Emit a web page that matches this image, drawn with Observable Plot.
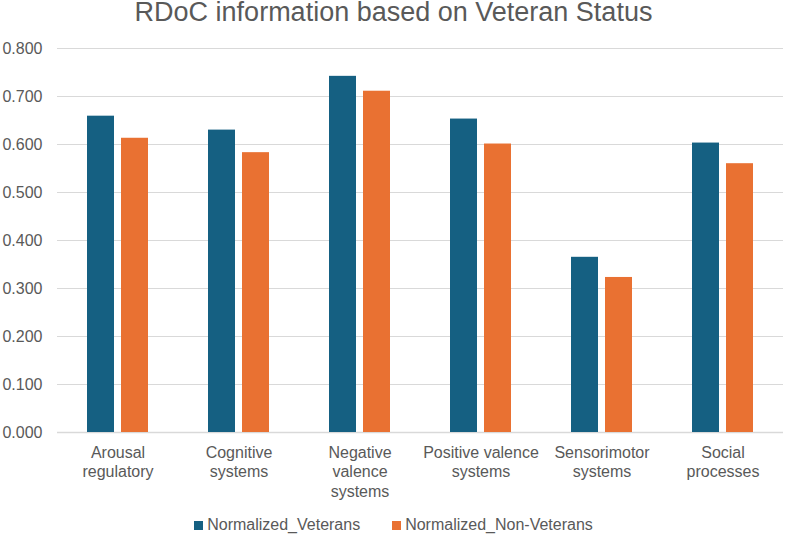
<!DOCTYPE html>
<html><head><meta charset="utf-8">
<script src="https://cdn.jsdelivr.net/npm/d3@7"></script>
<script src="https://cdn.jsdelivr.net/npm/@observablehq/plot@0.6"></script>
<style>
body{margin:0;background:#fff;font-family:"Liberation Sans",Arial,sans-serif;width:787px;height:536px;overflow:hidden;}
#title{height:36px;text-align:center;font-size:27px;line-height:25px;color:#595959;}
#legend{display:flex;justify-content:center;gap:32px;font-size:16px;color:#595959;margin-top:14px;}
.item{display:flex;align-items:center;gap:4px;}
.sw{width:9px;height:9px;display:inline-block;}
</style></head>
<body>
<div id="title">RDoC information based on Veteran Status</div>
<div id="chart"></div>
<div id="legend"></div>
<script>
const categories = ["Arousal regulatory","Cognitive systems","Negative valence systems","Positive valence systems","Sensorimotor systems","Social processes"];
const tickLabels = ["Arousal\nregulatory","Cognitive\nsystems","Negative\nvalence\nsystems","Positive valence\nsystems","Sensorimotor\nsystems","Social\nprocesses"];
const series = ["Normalized_Veterans","Normalized_Non-Veterans"];
const veterans = [0.659,0.630,0.742,0.653,0.365,0.603];
const nonVeterans = [0.613,0.583,0.711,0.601,0.323,0.560];
const colors = ["#156082","#E97132"];
const yTicks = [0,0.1,0.2,0.3,0.4,0.5,0.6,0.7,0.8];

const data = categories.flatMap((c,i)=>[
  {category:c, series:series[0], value:veterans[i]},
  {category:c, series:series[1], value:nonVeterans[i]}
]);
const fmt = d3.format(".3f");
const chart = Plot.plot({
  width:787, height:466,
  marginTop:12, marginBottom:70, marginLeft:57, marginRight:4,
  style:{fontFamily:'"Liberation Sans",Arial,sans-serif', fontSize:"16px", color:"#595959", background:"#fff"},
  fx:{domain:categories, padding:0, label:null},
  x:{domain:series, axis:null, paddingInner:0.206, paddingOuter:0.882},
  y:{domain:[0,0.8], label:null},
  color:{domain:series, range:colors},
  marks:[
    Plot.gridY(yTicks, {stroke:"#d9d9d9", strokeOpacity:1, strokeWidth:1}),
    Plot.ruleY([0], {stroke:"#d9d9d9", strokeWidth:1.3}),
    Plot.axisY(yTicks, {tickFormat:fmt, tickSize:0, tickPadding:15, fontSize:16, fill:"#595959", label:null}),
    Plot.axisFx({anchor:"bottom", tickFormat:d=>tickLabels[categories.indexOf(d)], tickSize:0, tickPadding:12, fontSize:16, fill:"#595959", lineHeight:1.2, label:null}),
    Plot.barY(data, {fx:"category", x:"series", y:"value", fill:"series"})
  ]
});
document.getElementById("chart").appendChild(chart);
const lg = document.getElementById("legend");
series.forEach((s,i)=>{
  const it = document.createElement("div"); it.className="item";
  const sw = document.createElement("span"); sw.className="sw"; sw.style.background=colors[i];
  const t = document.createElement("span"); t.textContent=s;
  it.appendChild(sw); it.appendChild(t); lg.appendChild(it);
});
</script>
</body></html>
